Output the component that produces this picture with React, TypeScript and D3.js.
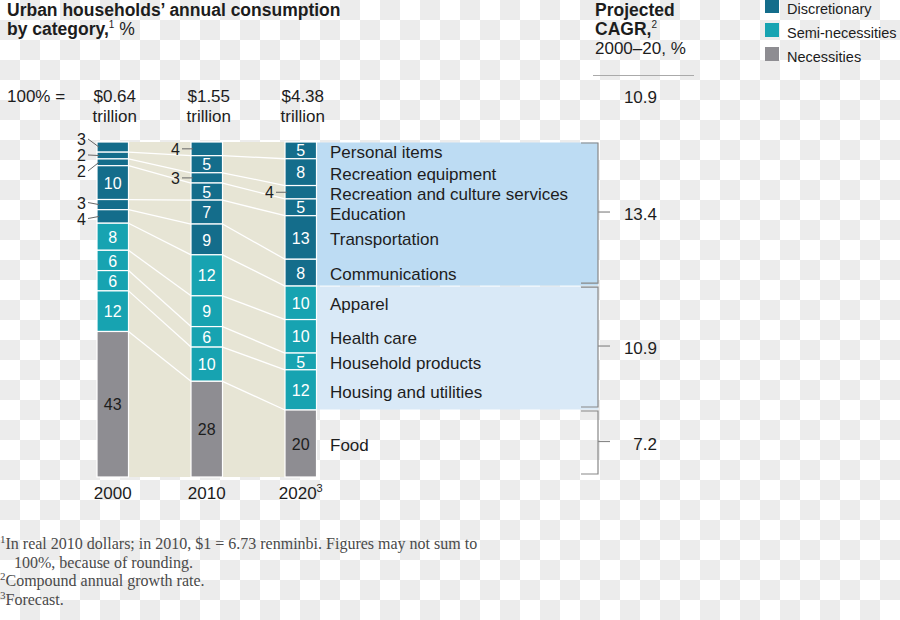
import React from "react";
import * as d3 from "d3";

const years = ["2000", "2010", "2020"];
const yearNotes = ["", "", "3"];
const totals = ["$0.64", "$1.55", "$4.38"];
const categories = [
  "Personal items",
  "Recreation equipment",
  "Recreation and culture services",
  "Education",
  "Transportation",
  "Communications",
  "Apparel",
  "Health care",
  "Household products",
  "Housing and utilities",
  "Food",
];
const categoryGroup = [
  "Discretionary", "Discretionary", "Discretionary", "Discretionary", "Discretionary", "Discretionary",
  "Semi-necessities", "Semi-necessities", "Semi-necessities", "Semi-necessities",
  "Necessities",
];
const values2000 = [3, 2, 2, 10, 3, 4, 8, 6, 6, 12, 43];
const values2010 = [4, 5, 3, 5, 7, 9, 12, 9, 6, 10, 28];
const values2020 = [5, 8, 4, 5, 13, 8, 10, 10, 5, 12, 20];
const groupNames = ["Discretionary", "Semi-necessities", "Necessities"];
const groupCagr = ["13.4", "10.9", "7.2"];
const totalCagr = "10.9";
const footnotes = [
  { sup: "1", text: "In real 2010 dollars; in 2010, $1 = 6.73 renminbi. Figures may not sum to" },
  { sup: "", text: "100%, because of rounding." },
  { sup: "2", text: "Compound annual growth rate." },
  { sup: "3", text: "Forecast." },
];

const W = 900;
const H = 620;
const SANS = "'Liberation Sans', Arial, Helvetica, sans-serif";
const SERIF = "'Liberation Serif', 'Times New Roman', serif";
const TEXT = "#1d1d1d";

const groupColor: Record<string, string> = {
  Discretionary: "#146d8b",
  "Semi-necessities": "#17a3b1",
  Necessities: "#8e8d92",
};
const panelColor: Record<string, string | null> = {
  Discretionary: "#bddcf3",
  "Semi-necessities": "#d9e9f7",
  Necessities: null,
};

type Lbl = { target: number; pos: number; idx: number };

function dodge(items: Lbl[], gap: number) {
  let clusters = items.map((d) => ({ items: [d], center: d.target }));
  const place = (c: { items: Lbl[]; center: number }) => {
    const n = c.items.length;
    c.items.forEach((d, k) => (d.pos = c.center - ((n - 1) / 2) * gap + k * gap));
  };
  clusters.forEach(place);
  let changed = true;
  while (changed) {
    changed = false;
    for (let i = 0; i < clusters.length - 1; i++) {
      const a = clusters[i];
      const b = clusters[i + 1];
      const aEnd = a.items[a.items.length - 1].pos;
      const bStart = b.items[0].pos;
      if (bStart - aEnd < gap) {
        const merged = { items: [...a.items, ...b.items], center: 0 };
        merged.center = d3.mean(merged.items, (d) => d.target) as number;
        place(merged);
        clusters.splice(i, 2, merged);
        changed = true;
        break;
      }
    }
  }
  return items;
}

export default function App() {
  const seriesValues = [values2000, values2010, values2020];
  const rows = years.map((yr, j) => {
    const o: Record<string, number | string> = { year: yr };
    categories.forEach((c, i) => (o[c] = seriesValues[j][i]));
    return o;
  });
  const stacked = d3
    .stack<Record<string, number | string>>()
    .keys(categories)
    .value((d, k) => d[k] as number)
    .offset(d3.stackOffsetExpand)(rows);

  const x = d3
    .scaleBand<string>()
    .domain(years)
    .range([97, 97 + 94 * 2 + 31.5])
    .paddingInner((94 - 31.5) / 94)
    .paddingOuter(0);
  const bw = x.bandwidth();
  const y = d3.scaleLinear().domain([0, 1]).range([142, 477]);

  const lastX = (x(years[2]) as number) + bw;
  const bracketX = 598;

  const groupExt = groupNames.map((g) => {
    const idxs = categories.map((_, i) => i).filter((i) => categoryGroup[i] === g);
    const top = d3.min(idxs, (i) => stacked[i][2][0]) as number;
    const bot = d3.max(idxs, (i) => stacked[i][2][1]) as number;
    return { g, y0: y(top), y1: y(bot) };
  });

  let prev = -Infinity;
  const catLabelY = categories.map((_, i) => {
    const s = stacked[i][2];
    const c = (y(s[0]) + y(s[1])) / 2;
    const v = Math.max(c, prev + 20);
    prev = v;
    return v;
  });

  const outside = years.map((yr, j) => {
    const items: Lbl[] = [];
    categories.forEach((_, i) => {
      if (seriesValues[j][i] <= 4) {
        const s = stacked[i][j];
        const c = (y(s[0]) + y(s[1])) / 2;
        items.push({ target: c, pos: c, idx: i });
      }
    });
    return dodge(items, 16);
  });

  return (
    <svg
      width={W}
      height={H}
      style={{ position: "absolute", left: 0, top: 0 }}
      fontFamily={SANS}
    >
      <defs>
        <pattern id="checker" width={40} height={40} patternUnits="userSpaceOnUse">
          <rect width={40} height={40} fill="#ffffff" />
          <rect x={20} y={0} width={20} height={20} fill="#ececec" />
          <rect x={0} y={20} width={20} height={20} fill="#ececec" />
        </pattern>
      </defs>
      <rect width={W} height={H} fill="url(#checker)" />

      {/* Title */}
      <text x={7} y={16} fontSize={17.5} fontWeight="bold" fill={TEXT}>
        Urban households’ annual consumption
      </text>
      <text x={7} y={35} fontSize={17.5} fill={TEXT}>
        <tspan fontWeight="bold">by category,</tspan>
        <tspan fontSize={10} dy={-7}>1</tspan>
        <tspan dy={7}> %</tspan>
      </text>

      {/* CAGR header */}
      <text x={595} y={16} fontSize={17.5} fontWeight="bold" fill={TEXT}>
        Projected
      </text>
      <text x={595} y={35} fontSize={17.5} fill={TEXT}>
        <tspan fontWeight="bold">CAGR,</tspan>
        <tspan fontSize={10} dy={-7}>2</tspan>
      </text>
      <text x={595} y={54} fontSize={17} fill={TEXT}>
        2000–20, %
      </text>
      <line x1={593} x2={694} y1={75.5} y2={75.5} stroke="#aaaaaa" strokeWidth={1} />
      <text x={657} y={103} fontSize={17} fill={TEXT} textAnchor="end">
        {totalCagr}
      </text>

      {/* Legend */}
      {groupNames.map((g, i) => (
        <g key={g}>
          <rect x={765} y={-1 + i * 24} width={14} height={14} fill={groupColor[g]} />
          <text x={787} y={13.5 + i * 24} fontSize={14.5} fill={TEXT}>
            {g}
          </text>
        </g>
      ))}

      {/* 100% = row */}
      <text x={7} y={102} fontSize={17} fill={TEXT}>
        100% =
      </text>
      {years.map((yr, j) => {
        const cx = (x(yr) as number) + bw / 2 + 2;
        return (
          <text key={yr} x={cx} y={102} fontSize={17} fill={TEXT} textAnchor="middle">
            <tspan x={cx}>{totals[j]}</tspan>
            <tspan x={cx} dy={20}>trillion</tspan>
          </text>
        );
      })}

      {/* beige background */}
      <rect
        x={x(years[0]) as number}
        y={y(0)}
        width={(x(years[2]) as number) - (x(years[0]) as number)}
        height={y(1) - y(0)}
        fill="#e7e5d5"
      />

      {/* panels */}
      {groupExt.map((ge) =>
        panelColor[ge.g] ? (
          <rect
            key={ge.g}
            x={lastX}
            y={ge.y0 + 0.5}
            width={bracketX - lastX}
            height={ge.y1 - ge.y0 - 1}
            fill={panelColor[ge.g] as string}
          />
        ) : null
      )}

      {/* connectors */}
      {categories.slice(0, -1).map((c, i) =>
        years.slice(0, -1).map((yr, j) => (
          <line
            key={c + yr}
            x1={(x(yr) as number) + bw}
            y1={y(stacked[i][j][1])}
            x2={x(years[j + 1]) as number}
            y2={y(stacked[i][j + 1][1])}
            stroke="#ffffff"
            strokeWidth={1.3}
          />
        ))
      )}

      {/* bars */}
      {stacked.map((s, i) =>
        s.map((d, j) => (
          <rect
            key={i + "-" + j}
            x={x(years[j]) as number}
            y={y(d[0])}
            width={bw}
            height={y(d[1]) - y(d[0])}
            fill={groupColor[categoryGroup[i]]}
            stroke="#ffffff"
            strokeWidth={1.2}
          />
        ))
      )}

      {/* inside value labels */}
      {stacked.map((s, i) =>
        s.map((d, j) =>
          seriesValues[j][i] > 4 ? (
            <text
              key={"v" + i + "-" + j}
              x={(x(years[j]) as number) + bw / 2}
              y={(y(d[0]) + y(d[1])) / 2}
              dy="0.38em"
              textAnchor="middle"
              fontSize={16}
              fill={categoryGroup[i] === "Necessities" ? TEXT : "#ffffff"}
            >
              {seriesValues[j][i]}
            </text>
          ) : null
        )
      )}

      {/* outside value labels */}
      {outside.map((items, j) =>
        items.map((it) => {
          const bx = x(years[j]) as number;
          return (
            <g key={"o" + j + "-" + it.idx}>
              <line
                x1={bx - 9}
                y1={it.pos}
                x2={bx + 2}
                y2={it.target}
                stroke="#666666"
                strokeWidth={1}
              />
              <text x={bx - 11} y={it.pos} dy="0.38em" textAnchor="end" fontSize={16} fill={TEXT}>
                {seriesValues[j][it.idx]}
              </text>
            </g>
          );
        })
      )}

      {/* category labels */}
      {categories.map((c, i) => (
        <text key={c} x={330} y={catLabelY[i]} dy="0.45em" fontSize={17} fill={TEXT}>
          {c}
        </text>
      ))}

      {/* brackets */}
      {groupExt.map((ge, k) => {
        const t = ge.y0 + 1;
        const b = ge.y1 - 3;
        const m = (ge.y0 + ge.y1) / 2 - 2;
        return (
          <g key={"b" + ge.g}>
            <path
              d={`M${bracketX - 17},${t}H${bracketX}V${b}H${bracketX - 17}`}
              fill="none"
              stroke="#888888"
              strokeWidth={1.2}
            />
            <line x1={bracketX} x2={bracketX + 12} y1={m} y2={m} stroke="#888888" strokeWidth={1.2} />
            <text x={657} y={m + 2} dy="0.38em" textAnchor="end" fontSize={17} fill={TEXT}>
              {groupCagr[k]}
            </text>
          </g>
        );
      })}

      {/* year labels */}
      {years.map((yr, j) => {
        const cx = (x(yr) as number) + bw / 2;
        return (
          <text key={"y" + yr} x={cx} y={499} fontSize={17} fill={TEXT} textAnchor="middle">
            {yr}
            {yearNotes[j] ? (
              <tspan fontSize={11} dy={-7}>
                {yearNotes[j]}
              </tspan>
            ) : null}
          </text>
        );
      })}

      {/* footnotes */}
      {footnotes.map((f, i) => (
        <text key={"f" + i} x={f.sup ? 0 : 14} y={549 + i * 18.5} fontFamily={SERIF} fontSize={16} fill="#4a4a4a">
          {f.sup ? (
            <tspan fontSize={11} dy={-6}>
              {f.sup}
            </tspan>
          ) : null}
          <tspan dy={f.sup ? 6 : 0}>{f.text}</tspan>
        </text>
      ))}
    </svg>
  );
}
